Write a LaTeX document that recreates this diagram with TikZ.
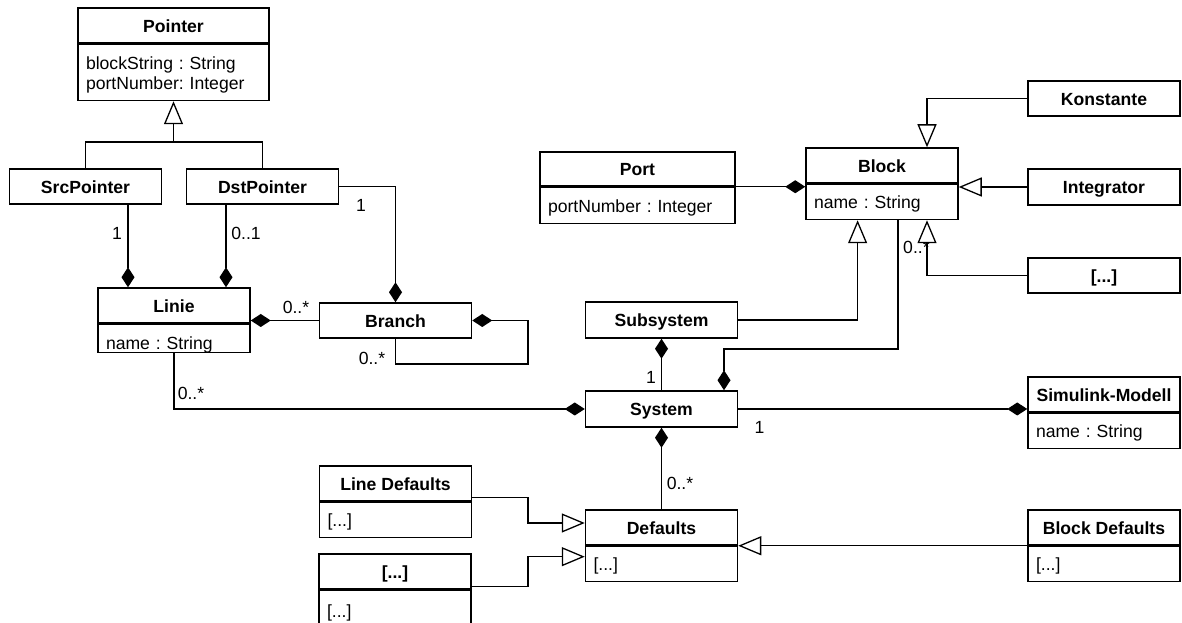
\documentclass[tikz,border=0pt]{standalone}
\usepackage{fontspec}
\setmainfont{Liberation Sans}
\usetikzlibrary{arrows.meta,positioning}
\frenchspacing

\begin{document}
\begin{tikzpicture}[x=1pt, y=1pt,
    font=\fontsize{17.6}{20}\selectfont,
    ttl/.style={draw, line width=1.5pt, font=\fontsize{17.6}{20}\selectfont\bfseries,
      minimum width=152pt, minimum height=35pt, inner sep=0pt, text height=14pt, text depth=0pt},
    att/.style={draw, line width=1.5pt, below=0pt of #1, inner xsep=8pt, inner ysep=0pt,
      text width=136pt, align=left, minimum height=35pt, text height=14pt, text depth=0pt},
    mult/.style={inner sep=0pt, text height=14pt, text depth=0pt},
    comp/.style={line width=1.3pt, -{Diamond[length=20pt,width=13pt]}},
    gen/.style={line width=1.3pt, -{Triangle[length=23pt,width=19pt,fill=white]}}]
    \useasboundingbox (0,0) rectangle (1182,623);

    % classes
    \node[ttl, minimum width=191pt] (pointer) at (173.5,597.5) {Pointer};
    \node[att=pointer, text width=175pt, minimum height=56pt, text depth=20pt] (pointerA) {blockString : String\\portNumber: Integer};
    \node[ttl] (srcp) at (85.5,436.5) {SrcPointer};
    \node[ttl] (dstp) at (262.5,436.5) {DstPointer};
    \node[ttl] (linie) at (174,317.5) {Linie};
    \node[att=linie, minimum height=28pt, text height=22pt] (linieA) {name : String};
    \node[ttl] (branch) at (395.5,302.5) {Branch};
    \node[ttl, minimum width=195pt, minimum height=34pt] (port) at (637.5,454) {Port};
    \node[att=port, text width=179pt, minimum height=36pt] (portA) {portNumber : Integer};
    \node[ttl] (block) at (882,457.5) {Block};
    \node[att=block] (blockA) {name : String};
    \node[ttl] (konst) at (1104,524.5) {Konstante};
    \node[ttl, minimum height=36pt] (integr) at (1104,436) {Integrator};
    \node[ttl] (dotsb) at (1104,347.5) {[...]};
    \node[ttl, minimum height=36pt] (subsys) at (661.5,303) {Subsystem};
    \node[ttl, minimum height=36pt] (system) at (661.5,214) {System};
    \node[ttl] (simul) at (1104,228.5) {Simulink-Modell};
    \node[att=simul] (simulA) {name : String};
    \node[ttl] (defaults) at (661.5,95.5) {Defaults};
    \node[att=defaults] (defaultsA) {[...]};
    \node[ttl] (ld) at (395.5,139.5) {Line Defaults};
    \node[att=ld] (ldA) {[...]};
    \node[ttl] (dotsd) at (395,51.5) {[...]};
    \node[att=dotsd, minimum height=40pt] (dotsdA) {[...]};
    \node[ttl] (bd) at (1104,95.5) {Block Defaults};
    \node[att=bd] (bdA) {[...]};

    % multiplicities
    \node[mult] (m1) at (117,390) {1};
    \node[mult] (m2) at (246,390) {0..1};
    \node[mult] (m3) at (361,418) {1};
    \node[mult] (m4) at (296,316) {0..*};
    \node[mult] (m5) at (372,265) {0..*};
    \node[mult] (m6) at (191,230) {0..*};
    \node[mult, anchor=west] (m7) at (903,376) {0..*};
    \node[mult] (m8) at (651,246) {1};
    \node[mult] (m9) at (759.5,196) {1};
    \node[mult] (m10) at (680,140) {0..*};

    % generalizations
    \coordinate (pj) at (173.5,481);
    \draw[gen] (srcp.north) |- (pj) -- (pointerA.south);
    \draw[line width=1.3pt] (dstp.north) |- (pj);
    \draw[gen] (konst.west) -| (block.north -| 927,0);
    \draw[gen] (integr.west) -- (integr.west -| block.east);
    \draw[gen] (dotsb.west) -| (blockA.south -| 927,0);
    \draw[gen] (subsys.east) -| (blockA.south -| 857.6,0);
    \draw[gen] ([yshift=4pt]ldA.north east) -| (528,100) -- (defaults.west |- 0,100);
    \draw[gen] ([yshift=3pt]dotsdA.north east) -| (528,66.3) -- (defaultsA.west |- 0,66.3);
    \draw[gen] (bdA.north west) -- (bdA.north west -| defaults.east);

    % compositions
    \draw[comp] (srcp.south -| 128,0) -- (linie.north -| 128,0);
    \draw[comp] (dstp.south -| 226,0) -- (linie.north -| 226,0);
    \draw[comp] (dstp.east) -| (branch.north);
    \draw[comp] (branch.west) -- (branch.west -| linie.east);
    \draw[comp] (branch.south) |- (528,259) |- (branch.east);
    \draw[comp] (linieA.south) |- (system.west);
    \draw[comp] (portA.north east) -- (portA.north east -| block.west);
    \draw[comp] (blockA.south -| 898,0) |- (724,274) -- (system.north -| 724,0);
    \draw[comp] (system.north) -- (subsys.south);
    \draw[comp] (system.east) -- (system.east -| simul.west);
    \draw[comp] (defaults.north) -- (system.south);
\end{tikzpicture}
\end{document}
